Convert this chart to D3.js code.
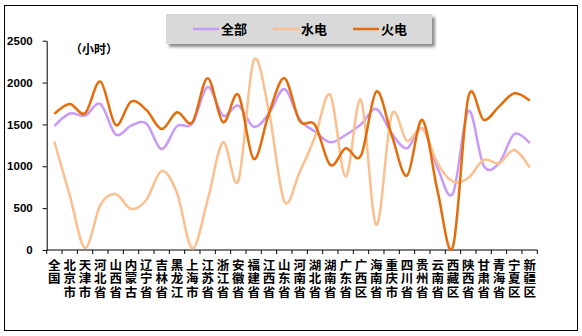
<!DOCTYPE html>
<html>
<head>
<meta charset="utf-8">
<script src="https://cdn.jsdelivr.net/npm/d3@7"></script>
<style>
  body { margin: 0; background: #fff; }
  svg { display: block; }
</style>
</head>
<body>
<svg></svg>
<script>
// provinces, read top to bottom
const regions = ['全国', '北京市', '天津市', '河北省', '山西省', '内蒙古', '辽宁省', '吉林省',
                 '黑龙江', '上海市', '江苏省', '浙江省', '安徽省', '福建省', '江西省', '山东省',
                 '河南省', '湖北省', '湖南省', '广东省', '广西区', '海南省', '重庆市', '四川省',
                 '贵州省', '云南省', '西藏区', '陕西省', '甘肃省', '青海省', '宁夏区', '新疆区'];

// utilisation hours
const allHours = [1480, 1630, 1605, 1745, 1380, 1485, 1510, 1207, 1480, 1510, 1945, 1605,
                  1725, 1472, 1630, 1922, 1560, 1414, 1287, 1374, 1500, 1685, 1394, 1215,
                  1454, 976, 677, 1661, 1008, 1036, 1386, 1275];
const hydroHours = [1295, 655, 25, 538, 669, 490, 600, 944, 680, 20, 600, 1287,
                    825, 2263, 1650, 580, 930, 1350, 1850, 876, 1793, 299, 1614, 1303,
                    1454, 1036, 817, 860, 1076, 1036, 1195, 984];
const thermalHours = [1625, 1745, 1633, 2012, 1494, 1773, 1673, 1446, 1645, 1526, 2052, 1526,
                      1853, 1088, 1633, 2052, 1542, 1494, 1016, 1215, 1128, 1892, 1374, 888,
                      1554, 700, 40, 1825, 1554, 1713, 1872, 1785];

const yTicks = [0, 500, 1000, 1500, 2000, 2500];

const seriesNames = ['全部', '水电', '火电'],
      seriesValues = [allHours, hydroHours, thermalHours],
      colors = ['#c99af7', '#fbc08f', '#e46c0a'];

const width = 582,
      height = 336,
      plotLeft = 46.7,
      plotRight = 537.3,
      plotTop = 40.7,
      plotBottom = 250,
      xScale = d3.scaleBand()
                 .domain(regions)
                 .range([plotLeft, plotRight]),
      yScale = d3.scaleLinear()
                 .domain([0, 2500])
                 .range([plotBottom, plotTop]),
      line = d3.line()
               .x((d, i) => xScale(regions[i]) + xScale.bandwidth() / 2)
               .y((d) => yScale(d))
               .curve(d3.curveCardinal.tension(0));

const svg = d3.select('svg')
    .attr('width', width)
    .attr('height', height);

const defs = svg.append('defs');
const blur = defs.append('filter')
    .attr('id', 'shadow')
    .attr('x', '-5%').attr('y', '-20%')
    .attr('width', '115%').attr('height', '150%');
blur.append('feGaussianBlur').attr('stdDeviation', 1.5);

// outer frame
svg.append('rect')
    .attr('x', 4.5)
    .attr('y', 5.5)
    .attr('width', 573)
    .attr('height', 325)
    .attr('fill', '#fff')
    .attr('stroke', '#000')
    .attr('stroke-width', 1);

// legend box
svg.append('rect')
    .attr('x', 169)
    .attr('y', 17)
    .attr('width', 266)
    .attr('height', 30)
    .attr('fill', '#8c8c8c')
    .attr('filter', 'url(#shadow)');
svg.append('rect')
    .attr('x', 166)
    .attr('y', 14)
    .attr('width', 266)
    .attr('height', 30)
    .attr('fill', '#d9d9d9');

const legendX = [193, 273, 353];
const legend = svg.append('g')
  .selectAll('g')
  .data(seriesNames)
  .enter()
  .append('g')
    .attr('transform', (d, i) => `translate(${legendX[i]}, 29)`);
legend.append('line')
    .attr('x1', 0)
    .attr('x2', 26)
    .attr('stroke', (d, i) => colors[i])
    .attr('stroke-width', 2.5);
legend.append('text')
    .text((d) => d)
    .attr('x', 28)
    .attr('dy', '0.36em')
    .style('font-family', '"Noto Sans CJK SC", sans-serif')
    .style('font-weight', 'bold')
    .style('font-size', '13px');

// axes
const yAxis = d3.axisLeft(yScale)
                .tickValues(yTicks)
                .tickFormat(d3.format('d'))
                .tickSize(4)
                .tickSizeOuter(0)
                .tickPadding(10);
svg.append('g')
    .attr('transform', `translate(${plotLeft}, 0)`)
    .call(yAxis)
    .call((g) => g.selectAll('text')
                  .style('font-family', '"Liberation Sans", Arial, sans-serif')
                  .style('font-weight', 'bold')
                  .style('font-size', '11.5px')
                  .attr('fill', '#000'));

const boundaries = regions.map((r) => xScale(r)).concat([plotRight]);
const xg = svg.append('g');
xg.append('line')
    .attr('x1', plotLeft).attr('x2', plotRight)
    .attr('y1', plotBottom).attr('y2', plotBottom)
    .attr('stroke', '#000');
xg.selectAll('line.tick')
  .data(boundaries)
  .enter()
  .append('line')
    .attr('class', 'tick')
    .attr('x1', (d) => d).attr('x2', (d) => d)
    .attr('y1', plotBottom).attr('y2', plotBottom + 4)
    .attr('stroke', '#000');

// one text per character, stacked vertically
const labelChars = regions.flatMap((r) => r.split('').map((c, row) => ({ r, c, row })));
xg.selectAll('text')
  .data(labelChars)
  .enter()
  .append('text')
    .text((d) => d.c)
    .attr('x', (d) => xScale(d.r) + xScale.bandwidth() / 2)
    .attr('y', (d) => 265 + d.row * 13.6)
    .attr('dy', '0.36em')
    .style('font-family', '"Noto Sans CJK SC", sans-serif')
    .style('font-weight', 'bold')
    .style('font-size', '12.5px')
    .style('text-anchor', 'middle');

// unit
svg.append('text')
    .text('（小时）')
    .attr('x', 70)
    .attr('y', 50)
    .attr('dy', '0.36em')
    .style('font-family', '"Noto Sans CJK SC", sans-serif')
    .style('font-weight', 'bold')
    .style('font-size', '12px');

// series
svg.append('g')
  .selectAll('path')
  .data(seriesValues)
  .enter()
  .append('path')
    .attr('d', (d) => line(d))
    .attr('fill', 'none')
    .attr('stroke', (d, i) => colors[i])
    .attr('stroke-width', 2.5);
</script>
</body>
</html>
